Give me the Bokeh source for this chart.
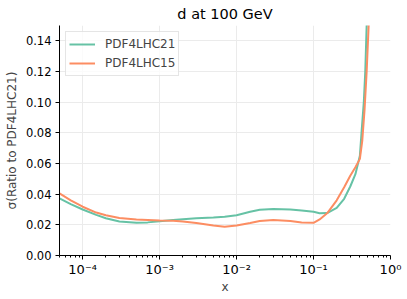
from bokeh.plotting import figure
from bokeh.models import Legend, LegendItem, FixedTicker, NumeralTickFormatter
from bokeh.embed import file_html
from bokeh.resources import INLINE

x21 = [5e-5, 7e-5, 1e-4, 1.5e-4, 2e-4, 3e-4, 5e-4, 7e-4, 1e-3, 1.5e-3, 2e-3, 3e-3, 5e-3, 7e-3,
       1e-2, 1.5e-2, 2e-2, 3e-2, 5e-2, 7e-2, 0.1, 0.12, 0.15, 0.2, 0.25, 0.3, 0.35, 0.4, 0.42,
       0.45, 0.47, 0.49, 0.5]
sig21 = [0.0372, 0.0335, 0.0300, 0.0265, 0.0243, 0.0222, 0.0213, 0.0216, 0.0224, 0.0232, 0.0237,
         0.0243, 0.0248, 0.0252, 0.0262, 0.0285, 0.0298, 0.0303, 0.0300, 0.0293, 0.0285, 0.0275,
         0.0277, 0.0310, 0.0370, 0.0450, 0.0530, 0.0650, 0.0800, 0.1000, 0.1200, 0.1500, 0.1600]

x15 = [5e-5, 7e-5, 1e-4, 1.5e-4, 2e-4, 3e-4, 5e-4, 7e-4, 1e-3, 1.5e-3, 2e-3, 3e-3, 5e-3, 7e-3,
       1e-2, 1.5e-2, 2e-2, 3e-2, 5e-2, 7e-2, 0.1, 0.12, 0.15, 0.2, 0.25, 0.3, 0.35, 0.4, 0.43,
       0.46, 0.49, 0.52, 0.54]
sig15 = [0.0405, 0.0360, 0.0318, 0.0280, 0.0262, 0.0244, 0.0235, 0.0232, 0.0228, 0.0226, 0.0222,
         0.0212, 0.0195, 0.0188, 0.0195, 0.0212, 0.0225, 0.0232, 0.0225, 0.0215, 0.0213, 0.0235,
         0.0275, 0.0360, 0.0445, 0.0520, 0.0575, 0.0630, 0.0750, 0.0950, 0.1200, 0.1500, 0.1700]

y_ticks = [0.0, 0.02, 0.04, 0.06, 0.08, 0.10, 0.12, 0.14]
x_ticks = [1e-4, 1e-3, 1e-2, 1e-1, 1.0]
x_tick_labels = ["10⁻⁴", "10⁻³", "10⁻²", "10⁻¹", "10⁰"]
x_minor = [m * 10.0 ** e for e in range(-5, 0) for m in range(2, 10)]

FONT = "DejaVu Sans"

p = figure(width=407, height=299, x_axis_type="log", x_range=(5e-5, 1.0), y_range=(0.0, 0.15),
           output_backend="svg", toolbar_location=None, title="d at 100 GeV",
           min_border_left=59, min_border_right=17, min_border_bottom=44, min_border_top=0)

p.title.align = "center"
p.title.text_font = FONT
p.title.text_font_size = "14.5px"
p.title.text_font_style = "normal"
p.title.text_color = "black"
p.title.standoff = 7

p.outline_line_color = None
p.background_fill_color = "white"
p.border_fill_color = "white"

l21 = p.line(x21, sig21, line_color="#66c2a5", line_width=2)
l15 = p.line(x15, sig15, line_color="#fc8d62", line_width=2)

p.yaxis.ticker = FixedTicker(ticks=y_ticks)
p.yaxis.formatter = NumeralTickFormatter(format="0.00")
p.yaxis.minor_tick_line_color = None
p.xaxis.ticker = FixedTicker(ticks=x_ticks, minor_ticks=x_minor)
p.xaxis.major_label_overrides = {t: s for t, s in zip(x_ticks, x_tick_labels)}

for ax in (p.xaxis, p.yaxis):
    ax.major_label_text_font = FONT
    ax.major_label_text_font_size = "11.5px"
    ax.major_label_text_color = "black"
    ax.axis_label_text_font = FONT
    ax.axis_label_text_font_size = "12px"
    ax.axis_label_text_font_style = "normal"
    ax.axis_line_color = "black"
    ax.major_tick_line_color = "black"
    ax.major_tick_out = 4
    ax.major_tick_in = 0
    ax.minor_tick_out = 2
    ax.minor_tick_in = 0

p.xaxis.major_label_text_font_size = "13px"
p.xaxis.axis_label = "x"
p.yaxis.axis_label = "σ(Ratio to PDF4LHC21)"
p.xaxis.axis_label_standoff = 0
p.yaxis.axis_label_standoff = 4
p.xaxis.major_label_standoff = 2
p.yaxis.major_label_standoff = 4

p.xgrid.grid_line_color = "#ebebeb"
p.ygrid.grid_line_color = "#ebebeb"

legend = Legend(items=[LegendItem(label="PDF4LHC21", renderers=[l21]),
                       LegendItem(label="PDF4LHC15", renderers=[l15])],
                location="top_left")
legend.label_text_font = FONT
legend.label_text_font_size = "12px"
legend.border_line_color = "#cccccc"
legend.border_line_width = 1
legend.background_fill_alpha = 0.8
legend.margin = 6
legend.padding = 3
legend.spacing = 1
legend.glyph_width = 26
legend.label_height = 18
legend.glyph_height = 18
legend.label_standoff = 10
p.add_layout(legend)

open("out.html", "w").write(file_html(p, INLINE))
